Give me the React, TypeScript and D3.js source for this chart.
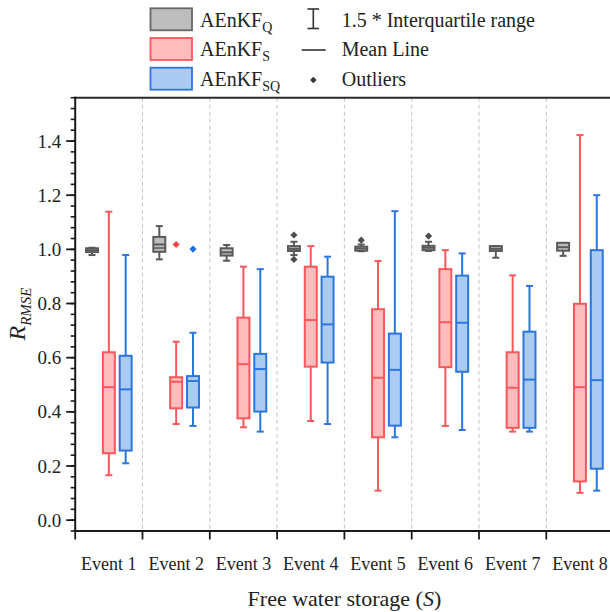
import React from "react";
import * as d3 from "d3";

// ---------- data ----------
const events = ["Event 1", "Event 2", "Event 3", "Event 4", "Event 5", "Event 6", "Event 7", "Event 8"];
const seriesKeys = ["Q", "S", "SQ"];

// AEnKF_Q (gray)
const lowQ = [0.979, 0.963, 0.958, 0.979, 0.993, 0.994, 0.969, 0.976];
const q1Q = [0.990, 0.991, 0.977, 0.994, 0.995, 0.997, 0.994, 0.995];
const meanQ = [0.997, 1.018, 0.989, 1.002, 1.003, 1.006, 1.002, 1.008];
const medianQ = [0.997, 1.005, 0.989, 1.002, 1.003, 1.006, 1.002, 1.008];
const q3Q = [1.004, 1.046, 1.004, 1.012, 1.010, 1.013, 1.012, 1.024];
const highQ = [1.006, 1.086, 1.016, 1.028, 1.018, 1.028, 1.012, 1.024];
const outliersQ = [[], [], [], [1.053, 0.963], [1.034], [1.049], [], []];

// AEnKF_S (red)
const lowS = [0.166, 0.355, 0.343, 0.366, 0.109, 0.348, 0.327, 0.101];
const q1S = [0.247, 0.413, 0.376, 0.567, 0.306, 0.565, 0.341, 0.143];
const meanS = [0.491, 0.511, 0.576, 0.739, 0.526, 0.731, 0.489, 0.491];
const q3S = [0.620, 0.528, 0.748, 0.936, 0.779, 0.927, 0.620, 0.799];
const highS = [1.139, 0.659, 0.936, 1.012, 0.957, 0.997, 0.904, 1.422];
const outliersS = [[], [1.018], [], [], [], [], [], []];

// AEnKF_SQ (blue)
const lowSQ = [0.210, 0.348, 0.327, 0.355, 0.306, 0.333, 0.327, 0.109];
const q1SQ = [0.257, 0.416, 0.401, 0.582, 0.349, 0.548, 0.341, 0.190];
const meanSQ = [0.483, 0.514, 0.558, 0.723, 0.555, 0.729, 0.519, 0.517];
const q3SQ = [0.607, 0.532, 0.614, 0.899, 0.689, 0.903, 0.696, 0.997];
const highSQ = [0.979, 0.692, 0.927, 0.973, 1.141, 0.985, 0.865, 1.200];
const outliersSQ = [[], [1.001], [], [], [], [], [], []];

const yMajorTicks = [0, 0.2, 0.4, 0.6, 0.8, 1.0, 1.2, 1.4];

const FONT = "'Liberation Serif', 'Times New Roman', serif";

const styles: Record<string, { fill: string; stroke: string; dot: string }> = {
  Q: { fill: "#bdbdbd", stroke: "#5a5a5a", dot: "#4d4d4d" },
  S: { fill: "#ffbcbc", stroke: "#fa575c", dot: "#ff4646" },
  SQ: { fill: "#abcbf3", stroke: "#2c76df", dot: "#1f6fe0" },
};

const seriesData: Record<string, any> = {
  Q: { low: lowQ, q1: q1Q, mean: meanQ, median: medianQ, q3: q3Q, high: highQ, out: outliersQ },
  S: { low: lowS, q1: q1S, mean: meanS, median: meanS, q3: q3S, high: highS, out: outliersS },
  SQ: { low: lowSQ, q1: q1SQ, mean: meanSQ, median: meanSQ, q3: q3SQ, high: highSQ, out: outliersSQ },
};

const diamond = (r: number) => `M0,${-r}L${r},0L0,${r}L${-r},0Z`;

export default function App() {
  const left = 75.2, right = 613.6, top = 97.7, bottom = 531;
  const x = d3.scaleBand<string>().domain(events).range([left, right]).paddingInner(0).paddingOuter(0);
  const bw = x.bandwidth();
  const inner = d3.scalePoint<string>().domain(seriesKeys).range([0.25 * bw, 0.75 * bw]);
  const y = d3.scaleLinear().domain([-0.04, 1.56]).range([bottom, top]);
  const minorTicks = d3.range(0, 41).map((i) => -0.04 + i * 0.04);
  const boxW = bw * 0.178;
  const capW = 7;

  const boundaries = d3.range(0, events.length + 1).map((i) => left + i * bw);

  return (
    <div style={{ position: "absolute", left: 0, top: 0 }}>
      <svg width={610} height={612} style={{ display: "block", background: "#fff" }} fontFamily={FONT}>
        {/* dashed separators */}
        {boundaries.slice(1, events.length).map((bx, i) => (
          <line key={"sep" + i} x1={bx} x2={bx} y1={top} y2={bottom} stroke="#c4c4c4" strokeWidth={1} strokeDasharray="4,3" />
        ))}

        {/* boxes */}
        {events.map((ev, i) =>
          seriesKeys.map((k) => {
            const d = seriesData[k];
            const st = styles[k];
            const cx = (x(ev) as number) + (inner(k) as number);
            const yHigh = y(d.high[i]), yLow = y(d.low[i]);
            const yQ3 = y(d.q3[i]), yQ1 = y(d.q1[i]);
            return (
              <g key={ev + k}>
                <line x1={cx} x2={cx} y1={yHigh} y2={yQ3} stroke={st.stroke} strokeWidth={2} />
                <line x1={cx} x2={cx} y1={yQ1} y2={yLow} stroke={st.stroke} strokeWidth={2} />
                <line x1={cx - capW / 2} x2={cx + capW / 2} y1={yHigh} y2={yHigh} stroke={st.stroke} strokeWidth={2} />
                <line x1={cx - capW / 2} x2={cx + capW / 2} y1={yLow} y2={yLow} stroke={st.stroke} strokeWidth={2} />
                <rect x={cx - boxW / 2} y={yQ3} width={boxW} height={Math.max(yQ1 - yQ3, 1)} fill={st.fill} stroke={st.stroke} strokeWidth={2} />
                <line x1={cx - boxW / 2} x2={cx + boxW / 2} y1={y(d.mean[i])} y2={y(d.mean[i])} stroke={st.stroke} strokeWidth={2} />
                {d.median[i] !== d.mean[i] && (
                  <line x1={cx - boxW / 2} x2={cx + boxW / 2} y1={y(d.median[i])} y2={y(d.median[i])} stroke={st.stroke} strokeWidth={1.5} />
                )}
                {d.out[i].map((v: number, j: number) => (
                  <path key={j} d={diamond(3.6)} transform={`translate(${cx},${y(v)})`} fill={st.dot} />
                ))}
              </g>
            );
          })
        )}

        {/* frame top */}
        <line x1={left - 1} x2={right} y1={top} y2={top} stroke="#2b2b2b" strokeWidth={2} />

        {/* y axis */}
        <line x1={left} x2={left} y1={top - 1} y2={bottom + 1} stroke="#1a1a1a" strokeWidth={2} />
        {minorTicks.map((t, i) => (
          <line key={"mt" + i} x1={left - 4.5} x2={left} y1={y(t)} y2={y(t)} stroke="#1a1a1a" strokeWidth={1.6} />
        ))}
        {yMajorTicks.map((t) => (
          <g key={"yt" + t}>
            <line x1={left - 9} x2={left} y1={y(t)} y2={y(t)} stroke="#1a1a1a" strokeWidth={1.8} />
            <text x={left - 14} y={y(t)} dy="0.35em" textAnchor="end" fontSize={19} fill="#222">
              {d3.format(".1f")(t)}
            </text>
          </g>
        ))}

        {/* x axis */}
        <line x1={left - 1} x2={right} y1={bottom} y2={bottom} stroke="#1a1a1a" strokeWidth={2} />
        {boundaries.map((bx, i) => (
          <line key={"xt" + i} x1={bx} x2={bx} y1={bottom} y2={bottom + 8.5} stroke="#1a1a1a" strokeWidth={1.8} />
        ))}
        {events.map((ev) => (
          <text key={"xl" + ev} x={(x(ev) as number) + bw / 2} y={569.5} textAnchor="middle" fontSize={18} fill="#222">
            {ev}
          </text>
        ))}

        {/* axis titles */}
        <text x={(left + right) / 2} y={606} textAnchor="middle" fontSize={22} fill="#222">
          Free water storage (<tspan fontStyle="italic">S</tspan>)
        </text>
        <text transform={`translate(25,314) rotate(-90)`} textAnchor="middle" fill="#222" fontStyle="italic">
          <tspan fontSize={24}>R</tspan>
          <tspan fontSize={15} dy={6}>RMSE</tspan>
        </text>

        {/* legend */}
        {seriesKeys.map((k, i) => {
          const st = styles[k];
          const ry = 8.3 + i * 29.7;
          return (
            <g key={"lg" + k}>
              <rect x={150.5} y={ry} width={41.5} height={22} fill={st.fill} stroke={k === "Q" ? "#666" : st.stroke} strokeWidth={1.8} />
              <text x={200} y={ry + 18.4} fontSize={20} fill="#222">
                AEnKF<tspan fontSize={14} dy={5}>{k}</tspan>
              </text>
            </g>
          );
        })}
        {/* IQR symbol */}
        <g stroke="#333" strokeWidth={1.6}>
          <line x1={313.3} x2={313.3} y1={9} y2={28.5} />
          <line x1={307.5} x2={319} y1={9} y2={9} />
          <line x1={307.5} x2={319} y1={28.5} y2={28.5} />
          <line x1={301.7} x2={325.7} y1={50} y2={50} />
        </g>
        <path d={diamond(3.2)} transform="translate(313.3,80)" fill="#333" />
        <text x={341.7} y={26.7} fontSize={20} fill="#222">1.5 * Interquartile range</text>
        <text x={341.7} y={56.4} fontSize={20} fill="#222">Mean Line</text>
        <text x={341.7} y={86.1} fontSize={20} fill="#222">Outliers</text>
      </svg>
    </div>
  );
}
